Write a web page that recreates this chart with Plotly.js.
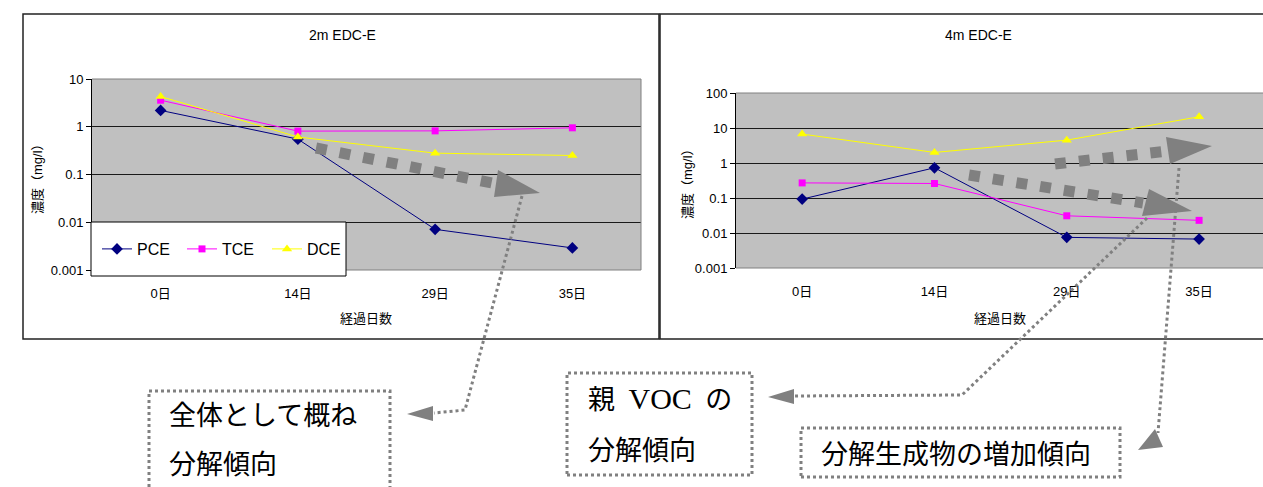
<!DOCTYPE html>
<html>
<head>
<meta charset="utf-8">
<script src="https://cdn.plot.ly/plotly-3.0.1.min.js"></script>
<style>
  html, body { margin: 0; padding: 0; background: #fff; overflow: hidden; }
  #chart { width: 1263px; height: 487px; }
</style>
</head>
<body>
<div id="chart"></div>
<script>
// Sampling days and concentrations (mg/l) at the two monitoring depths
const days = ['0日', '14日', '29日', '35日'];

const pce2m = [2.2, 0.55, 0.0071, 0.0029];
const tce2m = [3.6, 0.81, 0.82, 0.95];
const dce2m = [4.3, 0.61, 0.28, 0.25];

const pce4m = [0.093, 0.73, 0.0075, 0.0067];
const tce4m = [0.27, 0.26, 0.031, 0.023];
const dce4m = [6.7, 2.0, 4.5, 21];

const seriesNames = ['PCE', 'TCE', 'DCE'];

const yTicks2m = [0.001, 0.01, 0.1, 1, 10];
const yTickText2m = ['0.001', '0.01', '0.1', '1', '10'];
const yTicks4m = [0.001, 0.01, 0.1, 1, 10, 100];
const yTickText4m = ['0.001', '0.01', '0.1', '1', '10', '100'];

const chartTitles = ['2m EDC-E', '4m EDC-E'];
const xTitle = '経過日数';
const yTitle = '濃度（mg/l）';
const notes = {
  overall: ['全体として概ね', '分解傾向'],
  parent: ['親\u2002<span style="font-family:\'Liberation Serif\',serif;font-size:30px">VOC</span>\u2002の', '分解傾向'],
  products: '分解生成物の増加傾向'
};

// ---- page geometry helpers (pixel -> paper) ----
const W = 1263, H = 487;
const px = x => x / W;
const py = y => 1 - y / H;
const pathOf = (pts, close) =>
  'M' + pts.map(([x, y]) => px(x) + ',' + py(y)).join('L') + (close ? 'Z' : '');

const LAT = '"Liberation Sans Narrow", "Arial Narrow", "Liberation Sans", Arial, "Noto Sans CJK JP", sans-serif';
const JP = '"Noto Sans CJK JP", "Noto Sans CJK SC", sans-serif';
const GRAY = '#808080';

const styles = [
  { color: '#000080', symbol: 'diamond', size: 9 },
  { color: '#ff00ff', symbol: 'square', size: 7 },
  { color: '#ffff00', symbol: 'triangle-up', size: 9 }
];

function series(vals, i, xa, ya, showlegend) {
  return {
    type: 'scatter', mode: 'lines+markers',
    x: days, y: vals, name: seriesNames[i],
    xaxis: xa, yaxis: ya, showlegend: showlegend,
    line: { color: styles[i].color, width: 1 },
    marker: { color: styles[i].color, symbol: styles[i].symbol, size: styles[i].size }
  };
}

const traces = [
  series(pce2m, 0, 'x', 'y', true),
  series(tce2m, 1, 'x', 'y', true),
  series(dce2m, 2, 'x', 'y', true),
  series(pce4m, 0, 'x2', 'y2', false),
  series(tce4m, 1, 'x2', 'y2', false),
  series(dce4m, 2, 'x2', 'y2', false)
];

function xAxis(dom, yref, range) {
  return {
    domain: dom, anchor: yref, type: 'category', range: range,
    showgrid: false, zeroline: false, showline: false,
    ticks: 'outside', ticklen: 11, tickcolor: 'rgba(0,0,0,0)',
    tickfont: { family: LAT, size: 13, color: '#000' }, fixedrange: true
  };
}
function yAxis(dom, xref, range, vals, text) {
  return {
    domain: dom, anchor: xref, type: 'log', range: range,
    tickvals: vals, ticktext: text,
    showgrid: true, gridcolor: '#1a1a1a', gridwidth: 1, zeroline: false,
    showline: true, linecolor: '#000', linewidth: 1,
    ticks: 'outside', ticklen: 5, tickcolor: '#000',
    tickfont: { family: LAT, size: 13, color: '#000' }, fixedrange: true
  };
}

const dotted = { color: GRAY, width: 3, dash: 'dot' };
const thick = { color: GRAY, width: 11, dash: '11px,13px' };

const shapes = [
  // outer chart frames
  { type: 'rect', xref: 'paper', yref: 'paper', x0: px(23), x1: px(659), y0: py(339), y1: py(14),
    line: { color: '#222', width: 1.5 }, layer: 'below' },
  { type: 'rect', xref: 'paper', yref: 'paper', x0: px(660), x1: px(1275), y0: py(339), y1: py(14),
    line: { color: '#222', width: 1.5 }, layer: 'below' },
  // plot-area borders (top, right, bottom)
  { type: 'path', xref: 'paper', yref: 'paper', path: pathOf([[92, 79], [641, 79], [641, 270], [92, 270]]),
    line: { color: GRAY, width: 1 }, layer: 'above' },
  { type: 'path', xref: 'paper', yref: 'paper', path: pathOf([[736, 93], [1266, 93], [1266, 268], [736, 268]]),
    line: { color: GRAY, width: 1 }, layer: 'above' },
  // legend box
  { type: 'rect', xref: 'paper', yref: 'paper', x0: px(91), x1: px(346), y0: py(276), y1: py(222),
    fillcolor: '#fff', line: { color: '#000', width: 1 }, layer: 'above' },

  // thick trend arrows
  { type: 'path', xref: 'paper', yref: 'paper', path: pathOf([[316, 148], [492, 183]]), line: thick, layer: 'above' },
  { type: 'path', xref: 'paper', yref: 'paper', path: pathOf([[498, 170], [540, 193], [494, 197]], true),
    fillcolor: GRAY, line: { width: 0 }, layer: 'above' },
  { type: 'path', xref: 'paper', yref: 'paper', path: pathOf([[969, 175], [1143, 203]]), line: thick, layer: 'above' },
  { type: 'path', xref: 'paper', yref: 'paper', path: pathOf([[1149, 189], [1192, 211], [1142, 216]], true),
    fillcolor: GRAY, line: { width: 0 }, layer: 'above' },
  { type: 'path', xref: 'paper', yref: 'paper', path: pathOf([[1055, 164], [1167, 151]]), line: thick, layer: 'above' },
  { type: 'path', xref: 'paper', yref: 'paper', path: pathOf([[1166, 137], [1212, 146], [1170, 164]], true),
    fillcolor: GRAY, line: { width: 0 }, layer: 'above' },

  // dotted leader lines with arrowheads
  { type: 'path', xref: 'paper', yref: 'paper', path: pathOf([[522, 196], [465, 410], [434, 413]]), line: dotted, layer: 'above' },
  { type: 'path', xref: 'paper', yref: 'paper', path: pathOf([[407, 414], [433, 406], [433, 421]], true),
    fillcolor: GRAY, line: { width: 0 }, layer: 'above' },
  { type: 'path', xref: 'paper', yref: 'paper', path: pathOf([[1147, 218], [962, 395], [794, 396]]), line: dotted, layer: 'above' },
  { type: 'path', xref: 'paper', yref: 'paper', path: pathOf([[768, 397], [794, 389], [794, 404]], true),
    fillcolor: GRAY, line: { width: 0 }, layer: 'above' },
  { type: 'path', xref: 'paper', yref: 'paper', path: pathOf([[1179, 168], [1158, 433]]), line: dotted, layer: 'above' },
  { type: 'path', xref: 'paper', yref: 'paper', path: pathOf([[1138, 450], [1163, 447], [1155, 429]], true),
    fillcolor: GRAY, line: { width: 0 }, layer: 'above' },

  // dotted note boxes
  { type: 'rect', xref: 'paper', yref: 'paper', x0: px(149), x1: px(390), y0: py(500), y1: py(391), line: dotted, layer: 'above' },
  { type: 'rect', xref: 'paper', yref: 'paper', x0: px(567), x1: px(752), y0: py(475), y1: py(373), line: dotted, layer: 'above' },
  { type: 'rect', xref: 'paper', yref: 'paper', x0: px(801), x1: px(1120), y0: py(477), y1: py(428), line: dotted, layer: 'above' }
];

function label(text, x, y, opts) {
  return Object.assign({
    xref: 'paper', yref: 'paper', x: px(x), y: py(y), text: text, showarrow: false,
    xanchor: 'center', yanchor: 'middle',
    font: { family: LAT, size: 13, color: '#000' }
  }, opts || {});
}
const noteFont = { family: JP, size: 27, color: '#000' };
const titleFont = { family: LAT, size: 14, color: '#000' };

const annotations = [
  label(chartTitles[0], 342, 35, { font: titleFont }),
  label(chartTitles[1], 978, 35, { font: titleFont }),
  label(xTitle, 366, 318),
  label(xTitle, 1000, 318),
  label(yTitle, 37, 176, { textangle: -90 }),
  label(yTitle, 687, 181, { textangle: -90 }),
  label(notes.overall[0], 167, 413, { xanchor: 'left', font: noteFont }),
  label(notes.overall[1], 167, 462, { xanchor: 'left', font: noteFont }),
  label(notes.parent[0], 586, 397, { xanchor: 'left', font: noteFont }),
  label(notes.parent[1], 586, 448, { xanchor: 'left', font: noteFont }),
  label(notes.products, 819, 452, { xanchor: 'left', font: noteFont })
];

const layout = {
  width: W, height: H,
  margin: { l: 0, r: 0, t: 0, b: 0 },
  paper_bgcolor: '#fff', plot_bgcolor: '#c0c0c0',
  xaxis: xAxis([px(92), px(641)], 'y', [-0.5, 3.5]),
  yaxis: yAxis([py(270), py(79)], 'x', [-3, 1], yTicks2m, yTickText2m),
  xaxis2: xAxis([px(736), 1], 'y2', [-0.5, 3.483]),
  yaxis2: yAxis([py(268), py(93)], 'x2', [-3, 2], yTicks4m, yTickText4m),
  showlegend: true,
  legend: {
    orientation: 'h', x: px(97), y: py(249), xanchor: 'left', yanchor: 'middle',
    bgcolor: 'rgba(0,0,0,0)', borderwidth: 0,
    entrywidth: 40, entrywidthmode: 'pixels', itemwidth: 30,
    font: { family: LAT, size: 16, color: '#000' }
  },
  shapes: shapes,
  annotations: annotations
};

Plotly.newPlot('chart', traces, layout, { staticPlot: true, displayModeBar: false });
</script>
</body>
</html>
